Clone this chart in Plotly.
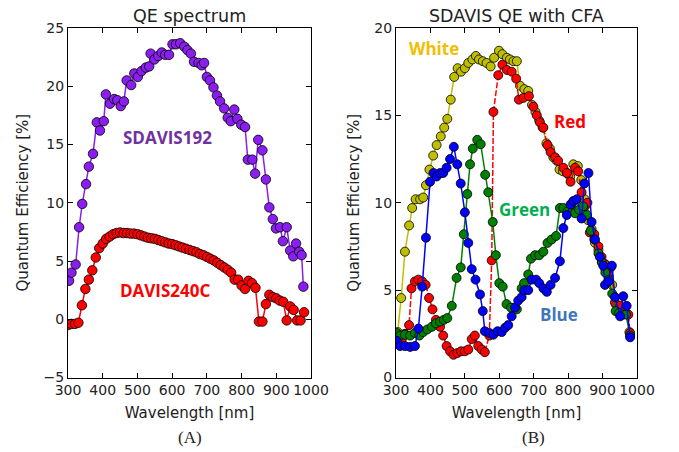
import plotly.graph_objects as go

W, H = 679, 452

# ---------------- Panel A data ----------------
sdavis192_wl = [303, 310, 322, 332, 341, 352, 360, 372, 383, 392, 403, 409, 421, 433, 442, 452, 461, 469,
                482, 491, 501, 512, 524, 534, 538, 549, 560, 570, 580, 591, 601, 611, 623, 635, 644, 654,
                663, 676, 685, 692, 700, 709, 719, 729, 738, 750, 760, 769, 779, 788, 799, 810, 818, 831,
                839, 848, 860, 870, 880, 890, 899, 911, 919, 930, 940, 949, 957, 966, 973, 978]
sdavis192_qe = [3.3, 4.0, 4.7, 7.9, 9.9, 11.6, 13.1, 14.2, 16.9, 16.2, 17.0, 19.3, 18.5, 18.9, 18.8, 18.3, 18.7, 20.5,
                20.1, 21.1, 20.8, 21.3, 21.6, 21.7, 22.8, 22.3, 22.6, 22.9, 22.7, 22.7, 23.6, 23.6, 23.7, 23.4, 23.1, 22.8,
                22.1, 22.0, 21.8, 22.0, 20.8, 20.5, 19.9, 19.2, 18.7, 18.1, 17.3, 17.0, 18.0, 17.2, 16.7, 16.5, 13.7, 13.7,
                12.5, 15.4, 14.5, 12.0, 9.6, 8.6, 7.8, 7.9, 6.7, 7.9, 5.9, 5.4, 6.5, 5.8, 5.5, 2.8]

davis240c_wl = [300, 310, 320, 330, 340, 350, 360, 370, 380, 390, 400, 410, 420, 430, 440, 450, 460, 470, 480, 490,
                500, 510, 520, 530, 540, 550, 560, 570, 580, 590, 600, 610, 620, 630, 640, 650, 660, 670, 680, 690,
                700, 710, 720, 730, 740, 750, 760, 770, 780, 790, 800, 810, 820, 830, 840, 850, 860, 870, 880, 890,
                900, 910, 920, 930, 940, 950, 960, 970, 980]
davis240c_qe = [-0.5, -0.4, -0.4, -0.3, 1.2, 2.6, 3.4, 4.2, 5.3, 6.1, 6.5, 6.9, 7.1, 7.3, 7.4, 7.45, 7.4, 7.4, 7.35, 7.35,
                7.3, 7.2, 7.1, 7.0, 6.95, 6.9, 6.8, 6.7, 6.6, 6.5, 6.45, 6.35, 6.25, 6.15, 6.05, 5.95, 5.85, 5.75, 5.6, 5.5,
                5.35, 5.2, 5.05, 4.85, 4.65, 4.45, 4.25, 4.0, 3.4, 3.4, 2.9, 2.6, 3.3, 3.1, 2.7, -0.2, -0.2, 1.3, 2.1, 1.9,
                1.8, 1.6, 1.5, -0.1, 1.1, 0.8, -0.1, -0.1, 0.6]

# ---------------- Panel B data ----------------
white_wl = [305, 315, 326, 338, 347, 357, 370, 379, 387, 397, 408, 418, 430, 440, 449, 459, 469, 479, 489, 500,
            510, 522, 532, 541, 552, 563, 575, 585, 599, 609, 622, 631, 641, 651, 660, 673, 684, 695, 705, 716,
            726, 737, 747, 757, 767, 775, 785, 796, 806, 815, 828, 838, 848, 858, 868, 878, 888, 898, 908, 918,
            928, 938, 948, 958, 968, 978]
white_qe = [2.6, 4.55, 7.2, 8.7, 9.7, 10.2, 10.2, 10.3, 11.0, 11.9, 12.7, 13.3, 13.8, 14.3, 14.8, 15.9, 17.2, 17.7, 17.5, 17.7,
            18.0, 18.2, 18.4, 18.2, 18.1, 18.0, 17.8, 18.3, 18.7, 18.5, 18.3, 18.2, 18.1, 18.1, 16.7, 16.5, 16.4, 15.6, 15.2, 14.7,
            14.3, 13.4, 13.1, 12.6, 12.4, 11.9, 11.8, 11.7, 11.5, 12.2, 12.1, 11.3, 10.2, 9.0, 8.5, 7.7, 7.3, 6.6, 6.2, 5.8,
            5.3, 4.2, 3.9, 3.8, 3.7, 2.6]

red_wl = [302, 317, 326, 338, 345, 355, 365, 376, 386, 396, 406, 416, 428, 437, 447, 457, 467, 478, 489, 500,
          510, 520, 529, 539, 549, 558, 571, 578, 583, 597, 609, 622, 636, 649, 657, 670, 686, 699, 709, 718,
          728, 740, 749, 762, 771, 786, 797, 807, 820, 829, 839, 849, 856, 863, 876, 888, 897, 907, 917, 924,
          936, 951, 963, 975, 980]
red_qe = [2.4, 2.2, 2.5, 3.0, 5.1, 5.5, 5.6, 5.5, 5.3, 4.55, 3.9, 3.3, 2.9, 2.4, 1.8, 1.5, 1.3, 1.4, 1.5, 1.5,
          1.6, 2.2, 2.4, 1.8, 1.6, 1.45, 2.4, 6.7, 15.2, 17.3, 17.9, 17.6, 17.5, 17.1, 15.9, 16.0, 16.1, 15.5, 15.0, 14.6,
          14.3, 13.3, 12.9, 12.6, 12.4, 12.0, 11.7, 11.2, 12.0, 11.8, 10.6, 9.8, 10.0, 8.3, 8.2, 7.5, 6.9, 6.5, 6.0, 6.3,
          4.3, 4.1, 3.8, 3.6, 2.55]

green_wl = [302, 312, 326, 341, 355, 368, 379, 391, 404, 416, 428, 439, 449, 462, 476, 488, 497, 507, 515, 523,
            536, 546, 559, 568, 581, 590, 600, 610, 621, 634, 651, 665, 672, 684, 692, 704, 716, 728, 740, 752,
            765, 776, 786, 798, 810, 820, 832, 844, 855, 866, 876, 888, 898, 908, 918, 928, 938, 948, 958, 968, 980]
green_qe = [2.55, 2.4, 2.45, 2.4, 2.55, 2.4, 2.6, 2.75, 2.9, 3.1, 3.2, 3.3, 3.4, 4.1, 5.7, 6.3, 8.2, 10.5, 12.2, 13.1,
            13.6, 13.35, 11.6, 10.6, 8.9, 7.0, 5.4, 5.2, 4.2, 4.0, 3.9, 5.1, 5.4, 5.9, 6.8, 7.0, 7.0, 7.2, 7.7, 7.9,
            8.1, 9.7, 9.7, 9.5, 9.9, 9.4, 9.6, 9.8, 9.3, 8.4, 7.9, 7.1, 6.6, 6.0, 5.6, 4.8, 3.8, 3.7, 3.6, 3.6, 2.4]

blue_wl = [302, 312, 326, 341, 355, 365, 376, 387, 399, 409, 418, 428, 437, 447, 457, 468, 478, 488, 500, 510,
           520, 531, 544, 552, 558, 571, 583, 595, 607, 617, 626, 636, 646, 655, 665, 673, 684, 694, 707, 716,
           728, 738, 749, 762, 776, 786, 796, 807, 815, 825, 839, 847, 859, 868, 878, 892, 902, 907, 917, 927,
           936, 951, 960, 970, 980]
blue_qe = [2.1, 1.8, 1.8, 1.75, 1.8, 2.8, 5.2, 8.0, 11.2, 11.7, 11.5, 11.7, 11.7, 12.0, 12.5, 13.2, 12.2, 11.1, 9.45, 7.7,
           6.2, 5.6, 4.75, 3.8, 2.65, 2.55, 2.45, 2.65, 2.6, 2.85, 3.0, 3.5, 4.0, 4.4, 4.6, 5.0, 5.0, 5.6, 5.6, 5.4,
           5.1, 4.9, 5.3, 5.7, 6.65, 8.55, 9.3, 9.9, 10.1, 10.2, 9.1, 11.1, 11.7, 8.9, 7.9, 6.9, 6.4, 5.3, 5.5, 6.4,
           4.6, 3.5, 4.65, 4.1, 2.3]

x_ticks = [300, 400, 500, 600, 700, 800, 900, 1000]
yA_ticks = [-5, 0, 5, 10, 15, 20, 25]
yB_ticks = [0, 5, 10, 15, 20]


def px_x(p):
    return p / W


def px_y(p):
    return 1 - p / H


fig = go.Figure()


def add_series(wl, qe, color, xa, ya, msize=9.5, dash="solid"):
    fig.add_trace(go.Scatter(
        x=wl, y=qe, mode="lines+markers", xaxis=xa, yaxis=ya,
        line=dict(color=color, width=1.5, dash=dash),
        marker=dict(size=msize, color=color, line=dict(color="black", width=0.8)),
        showlegend=False, hoverinfo="x+y"))


add_series(davis240c_wl, davis240c_qe, "#ff0000", "x", "y")
add_series(sdavis192_wl, sdavis192_qe, "#8a1ef0", "x", "y")

add_series(white_wl, white_qe, "#bfbf00", "x2", "y2", 9)
add_series(red_wl, red_qe, "#ff0000", "x2", "y2", 9, "6px,2px")
add_series(green_wl, green_qe, "#008000", "x2", "y2", 9)
add_series(blue_wl, blue_qe, "#0000ff", "x2", "y2", 9)

top = px_y(28)
bot = px_y(377.5)
axis_common = dict(showgrid=False, zeroline=False, showline=True, linecolor="black", linewidth=1,
                   mirror="ticks", ticks="inside", ticklen=5, tickcolor="black", tickwidth=1,
                   automargin=False,
                   tickfont=dict(family="DejaVu Sans", size=14, color="#222"))

fig.update_layout(
    width=W, height=H, margin=dict(l=0, r=0, t=0, b=0, autoexpand=False),
    paper_bgcolor="white", plot_bgcolor="white",
    font=dict(family="DejaVu Sans", color="#222"),
    xaxis=dict(domain=[px_x(68), px_x(311)], range=[300, 1000], tickvals=x_ticks, tickangle=0, anchor="y",
               title=dict(text="Wavelength [nm]", font=dict(size=15), standoff=10), **axis_common),
    yaxis=dict(domain=[bot, top], range=[-5, 25], tickvals=yA_ticks, anchor="x",
               title=dict(text="Quantum Efficiency [%]", font=dict(size=15), standoff=11), **axis_common),
    xaxis2=dict(domain=[px_x(396), px_x(637)], range=[300, 1000], tickvals=x_ticks, tickangle=0, anchor="y2",
                title=dict(text="Wavelength [nm]", font=dict(size=15), standoff=10), **axis_common),
    yaxis2=dict(domain=[bot, top], range=[0, 20], tickvals=yB_ticks, anchor="x2",
                title=dict(text="Quantum Efficiency [%]", font=dict(size=15), standoff=11), **axis_common),
)

annotations = [
    dict(text="QE spectrum", x=px_x(189), y=px_y(16), xref="paper", yref="paper",
         font=dict(size=17.5, family="DejaVu Sans", color="#222")),
    dict(text="SDAVIS QE with CFA", x=px_x(516), y=px_y(16), xref="paper", yref="paper",
         font=dict(size=17.5, family="DejaVu Sans", color="#222")),
    dict(text="(A)", x=px_x(190), y=px_y(437), xref="paper", yref="paper",
         font=dict(size=17, family="Liberation Serif", color="#222")),
    dict(text="(B)", x=px_x(533), y=px_y(437), xref="paper", yref="paper",
         font=dict(size=17, family="Liberation Serif", color="#222")),
    dict(text="<b>SDAVIS192</b>", x=588, y=15.6, xref="x", yref="y",
         font=dict(size=17, family="Open Sans", color="#7030a0")),
    dict(text="<b>DAVIS240C</b>", x=581, y=2.5, xref="x", yref="y",
         font=dict(size=17, family="Open Sans", color="#ff0000")),
    dict(text="<b>White</b>", x=410, y=18.8, xref="x2", yref="y2",
         font=dict(size=17, family="Open Sans", color="#f0c000")),
    dict(text="<b>Red</b>", x=805, y=14.65, xref="x2", yref="y2",
         font=dict(size=17, family="Open Sans", color="#ff0000")),
    dict(text="<b>Green</b>", x=672, y=9.6, xref="x2", yref="y2",
         font=dict(size=17, family="Open Sans", color="#00b050")),
    dict(text="<b>Blue</b>", x=773, y=3.6, xref="x2", yref="y2",
         font=dict(size=17, family="Open Sans", color="#3f78b8")),
]
for a in annotations:
    a.setdefault("showarrow", False)
    a["xanchor"] = "center"
    a["yanchor"] = "middle"
    fig.add_annotation(**a)

# Remove the default 8px page margin so the figure fills the window exactly.
fig.write_html("out.html", config={"displayModeBar": False},
               post_script="document.body.style.margin='0';")
